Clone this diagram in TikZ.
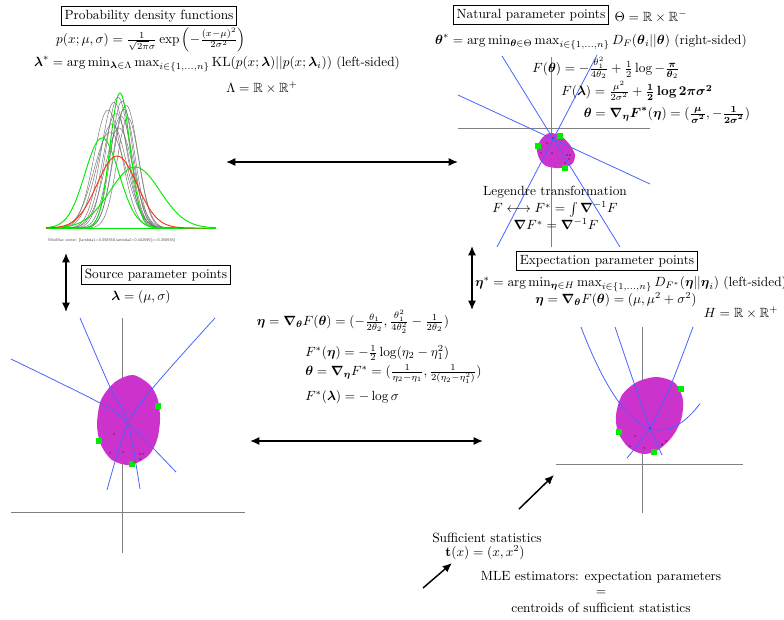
\documentclass[tikz,border=0pt]{standalone}
\usepackage{amsmath,amssymb}
\usetikzlibrary{arrows.meta}
\definecolor{blobc}{RGB}{204,51,204}
\definecolor{ptgreen}{RGB}{0,235,0}
\definecolor{cblue}{RGB}{70,100,255}
\definecolor{gred}{RGB}{250,50,20}
\tikzset{
  titlebox/.style={draw, line width=0.6pt, inner sep=2.5pt},
  txt/.style={inner sep=0pt},
  dbl/.style={{Latex[length=7pt,width=6pt]}-{Latex[length=7pt,width=6pt]}, line width=1.1pt},
  sgl/.style={-{Latex[length=7pt,width=6pt]}, line width=1.1pt},
  axisline/.style={gray, line width=0.5pt},
  bcurve/.style={cblue, line width=0.6pt},
  blob/.style={fill=blobc, draw=none},
  gcurve/.style={black!55, line width=0.35pt},
  grcurve/.style={ptgreen, line width=0.7pt},
  rcurve/.style={gred, line width=0.7pt},
}
\newcommand{\gsq}[1]{\fill[ptgreen] (#1) +(-3,-3) rectangle +(3,3);}
\newcommand{\bdot}[1]{\fill[black] (#1) circle (0.7);}
\newcommand{\bs}[1]{\boldsymbol{#1}}
\begin{document}
\begin{tikzpicture}[x=0.75pt,y=-0.75pt]
\useasboundingbox (0,0) rectangle (784,619);

% ---------- Probability density functions ----------
\node[titlebox] (pdfbox) at (149,16) {Probability density functions};
\node[txt] (pform) at (151,40) {$p(x;\mu,\sigma)=\frac{1}{\sqrt{2\pi}\sigma}\exp\left(-\frac{(x-\mu)^2}{2\sigma^2}\right)$};
\node[txt] (lamstar) at (217,64) {$\bs{\lambda}^*=\arg\min_{\bs{\lambda}\in\Lambda}\max_{i\in\{1,\dots,n\}}\mathrm{KL}(p(x;\bs{\lambda})||p(x;\bs{\lambda}_i))$ (left-sided)};
\node[txt] (Lam) at (262,88) {$\Lambda=\mathbb{R}\times\mathbb{R}^+$};

% gaussians
\foreach \gm/\gh/\gs in {108/118/14, 114/126/13, 118/131/12, 121/112/12, 124/119/11, 126/123/12, 112/104/15, 119/100/14, 128/110/11, 116/115/13, 110/96/16, 122/127/11}{
  \pgfmathsetmacro\glo{max(46,\gm-4.5*\gs)}
  \pgfmathsetmacro\ghi{min(216,\gm+4.5*\gs)}
  \draw[gcurve] plot[domain=\glo:\ghi,samples=70,smooth] (\x,{228-\gh*exp(-((\x-\gm)/\gs)^2/2)});
}
\draw[grcurve] (46,228) -- (216,228);
\foreach \gm/\gh/\gs in {120/135/10, 102/90/17, 135/61/25}{
  \pgfmathsetmacro\glo{max(46,\gm-4.5*\gs)}
  \pgfmathsetmacro\ghi{min(216,\gm+4.5*\gs)}
  \draw[grcurve] plot[domain=\glo:\ghi,samples=80,smooth] (\x,{228-\gh*exp(-((\x-\gm)/\gs)^2/2)});
}
\draw[rcurve] plot[domain=46:207,samples=80,smooth] (\x,{228-72*exp(-((\x-117)/20)^2/2)});
\node[txt, anchor=west, font=\sffamily\fontsize{3}{3.5}\selectfont, text=black!70] (mmlabel) at (48,240) {MiniMax center: [lambda1=0.058558,lambda2=0.442595],r=0.258555]};

% ---------- Natural parameter points ----------
\node[titlebox] (natbox) at (531,15) {Natural parameter points};
\node[txt] (Theta) at (651,17) {$\Theta=\mathbb{R}\times\mathbb{R}^-$};
\node[txt] (thstar) at (591,42) {$\bs{\theta}^*=\arg\min_{\bs{\theta}\in\Theta}\max_{i\in\{1,\dots,n\}}D_F(\bs{\theta}_i||\bs{\theta})$ (right-sided)};

\draw[axisline] (458,128) -- (650,128);
\draw[axisline] (551,57) -- (551,247);
\draw[blob] plot[smooth cycle] coordinates {(550,133) (561,136) (570,145) (575,155) (572,164) (560,168) (546,166) (539,158) (537,148) (542,138)};
\draw[bcurve] (502,56) -- (620,247);
\draw[bcurve] (458,95) -- (650,184);
\draw[bcurve] (597,55) -- (497,247);
\gsq{538,146}\gsq{560,136}\gsq{565,168}
\foreach \p in {{547,143},{541,153},{552,153},{567,155},{570,155},{569,159},{565,163},{553,138}} {\bdot{\p}}

\node[txt] (Fth) at (606,68) {$F(\bs{\theta})=-\frac{\theta_1^2}{4\theta_2}+\frac{1}{2}\log-\frac{\bs{\pi}}{\bs{\theta}_2}$};
\node[txt] (Flam) at (637,91) {$F(\bs{\lambda})=\frac{\mu^2}{2\sigma^2}+\frac{\bs{1}}{\bs{2}}\,\bs{\log}\,\bs{2\pi\sigma^2}$};
\node[txt] (thgrad) at (667,115) {$\bs{\theta}=\bs{\nabla}_{\bs{\eta}}\bs{F}^{\bs{*}}(\bs{\eta})=(\frac{\bs{\mu}}{\bs{\sigma^2}},-\frac{\bs{1}}{\bs{2\sigma^2}})$};

\node[txt] (leg1) at (555,192) {Legendre transformation};
\node[txt] (leg2) at (555,209) {$F\longleftrightarrow F^*=\int\bs{\nabla}^{-1}F$};
\node[txt] (leg3) at (556,224) {$\bs{\nabla}F^*=\bs{\nabla}^{-1}F$};

% ---------- Expectation parameter points ----------
\node[titlebox] (expbox) at (607,261) {Expectation parameter points};
\node[txt] (etstar) at (631,284) {$\bs{\eta}^*=\arg\min_{\bs{\eta}\in H}\max_{i\in\{1,\dots,n\}}D_{F^*}(\bs{\eta}||\bs{\eta}_i)$ (left-sided)};
\node[txt] (etgrad) at (616,300) {$\bs{\eta}=\bs{\nabla}_{\bs{\theta}}F(\bs{\theta})=(\mu,\mu^2+\sigma^2)$};
\node[txt] (Hset) at (741,313) {$H=\mathbb{R}\times\mathbb{R}^+$};

\draw[axisline] (556,464) -- (743,464);
\draw[axisline] (642,327) -- (642,513);
\draw[blob] plot[smooth cycle] coordinates {(657,377) (675,383) (683,400) (681,420) (672,437) (658,450) (643,454) (628,447) (618,432) (616,415) (622,395) (637,382)};
\draw[bcurve] plot[domain=581:700,samples=60,smooth] (\x,{430-0.0165*(\x-660)^2});
\draw[bcurve] plot[smooth] coordinates {(615,327) (633,380) (650,428) (662,455)};
\draw[bcurve] plot[smooth] coordinates {(693,327) (670,387) (650,428) (627,458)};
\gsq{681,389}\gsq{619,432}\gsq{654,452}
\foreach \p in {{635,436},{630,446},{644,448},{666,441},{662,444},{662,445},{650,428}} {\bdot{\p}}

% ---------- Source parameter points ----------
\node[titlebox] (srcbox) at (156,275) {Source parameter points};
\node[txt] (lameq) at (141,297) {$\bs{\lambda}=(\mu,\sigma)$};

\draw[axisline] (11,512) -- (245,512);
\draw[axisline] (122,318) -- (122,553);
\draw[blob] plot[smooth cycle] coordinates {(133,375) (150,385) (158,400) (160,420) (157,440) (148,456) (130,465) (112,460) (101,445) (97,425) (101,400) (115,382)};
\draw[bcurve] plot[smooth] coordinates {(80,318) (110,387) (128,423) (140,489)};
\draw[bcurve] plot[smooth] coordinates {(215,318) (157,383) (128,423) (107,490)};
\draw[bcurve] plot[smooth] coordinates {(11,359) (100,403) (128,423) (176,472)};
\gsq{158,406}\gsq{99,441}\gsq{132,464}
\foreach \p in {{114,434},{110,453},{123,452},{140,454},{143,454},{140,459},{134,462}} {\bdot{\p}}
\fill[gred] (128,423) circle (1.2);

% ---------- middle formulas ----------
\node[txt] (etform) at (353,322) {$\bs{\eta}=\bs{\nabla}_{\bs{\theta}}F(\bs{\theta})=(-\frac{\theta_1}{2\theta_2},\frac{\theta_1^2}{4\theta_2^2}-\frac{1}{2\theta_2})$};
\node[txt, anchor=west] (Fseta) at (305,353) {$F^*(\bs{\eta})=-\frac{1}{2}\log(\eta_2-\eta_1^2)$};
\node[txt, anchor=west] (thform) at (305,374) {$\bs{\theta}=\bs{\nabla}_{\bs{\eta}}F^*=(\frac{1}{\eta_2-\eta_1},\frac{1}{2(\eta_2-\eta_1^2)})$};
\node[txt, anchor=west] (Fslam) at (305,397) {$F^*(\bs{\lambda})=-\log\sigma$};

% ---------- bottom ----------
\node[txt] (suff1) at (487,538) {Sufficient statistics};
\node[txt] (suff2) at (485,553) {$\mathbf{t}(x)=(x,x^2)$};
\node[txt] (mle1) at (601,577) {MLE estimators: expectation parameters};
\node[txt] (mle2) at (601,593) {$=$};
\node[txt] (mle3) at (601,608) {centroids of sufficient statistics};

% ---------- arrows ----------
\coordinate (a1) at (226,162); \coordinate (a2) at (458,162);
\draw[dbl] (a1) -- (a2);
\coordinate (b1) at (66,253); \coordinate (b2) at (66,312);
\draw[dbl] (b1) -- (b2);
\coordinate (c1) at (472,246); \coordinate (c2) at (472,310);
\draw[dbl] (c1) -- (c2);
\coordinate (d1) at (250,441); \coordinate (d2) at (483,441);
\draw[dbl] (d1) -- (d2);
\coordinate (e1) at (519,509); \coordinate (e2) at (554,475);
\draw[sgl] (e1) -- (e2);
\coordinate (f1) at (423,588); \coordinate (f2) at (452,563);
\draw[sgl] (f1) -- (f2);
\end{tikzpicture}
\end{document}
